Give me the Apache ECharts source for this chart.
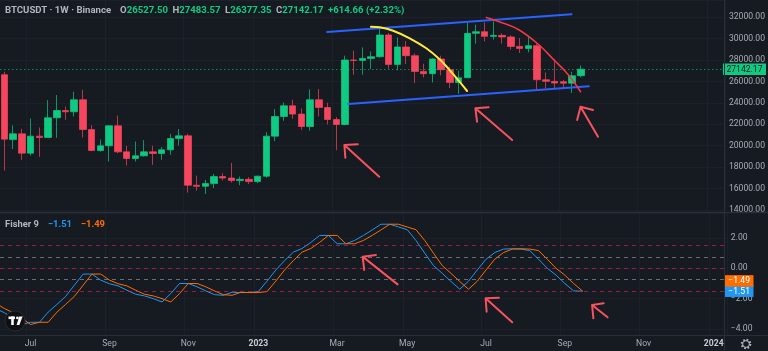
<!DOCTYPE html>
<html><head><meta charset="utf-8">
<script src="https://cdn.jsdelivr.net/npm/echarts@6/dist/echarts.min.js"></script>
<style>html,body{margin:0;padding:0;background:#161a21;}#c{width:768px;height:351px;}</style>
</head><body><div id="c"></div>
<script>
// ---------- DATA ----------
const firstWeek = '2022-06-13';   // week index 0
const weekCount = 83;             // categories shown (through 2024-01-08)
const opens  = [26621,20560,21101,19296,20886,20760,22598,23281,23160,24282,21504,19539,19979,21850,19417,18791,19043,19417,19260,19604,20662,20914,16302,16200,16452,17107,16970,16733,16850,16640,17144,20886,22720,23721,22944,21784,24282,23562,22439,21971,28000,27960,28146,28305,30335,27585,29212,28398,26930,26715,28090,27089,25900,26340,30484,30640,30204,30297,30150,29268,29080,29334,26153,26000,25968,25832,26527.50];
const closes = [20606,21101,19296,20886,20760,22598,23281,23160,24282,21504,19539,19979,21850,19417,18791,19043,19417,19260,19604,20662,20914,16302,16200,16452,17107,16970,16733,16850,16640,17144,20886,22720,23721,22944,21784,24282,23562,22439,21971,28000,27960,28146,28305,30335,27585,29212,28398,26930,26715,28090,27089,25900,26340,30484,30640,30204,30297,30150,29268,29080,29334,26153,26000,25840,25832,26527.50,27142.17];
const lows   = [17668,19670,18669,19071,18950,20727,20727,22411,22720,20755,19500,19450,18510,19300,18136,18510,18978,18201,18669,19137,20007,15610,15797,15488,16022,16733,16546,16302,16400,16500,17000,20419,22317,22505,21476,21400,22720,21971,19576,21900,26621,26621,27154,28210,27182,27023,27622,25845,26368,25900,26555,25377,24843,26300,29520,29736,29895,29520,28960,28651,28700,25218,25340,25377,25333,24910,26377.35];
const highs  = [26902,21878,21569,22533,21692,24254,24722,23655,25030,25218,21915,20569,21900,22813,19979,20381,20512,19979,19857,21101,21541,21101,17200,16798,17360,17424,18388,17107,17050,17200,21261,23412,24030,24282,23468,25246,25283,24001,22660,28398,28866,29175,28800,30990,30522,30110,29774,28600,27650,28150,28398,27370,27000,31457,31300,31513,31607,30500,30300,30054,30200,29500,26836,28090,26125,26900,27483.57];
const lastChange = 614.66, lastChangePct = 2.32;

// Fisher 9 (week index -1 .. 66)
const fisherStartIdx = -1;
const fisher  = [-2.65,-2.93,-3.30,-3.71,-3.56,-3.56,-2.89,-2.38,-1.85,-1.11,-0.38,-0.38,-0.78,-1.02,-1.16,-1.45,-1.71,-1.82,-2.00,-2.22,-1.67,-1.00,-1.00,-1.22,-1.49,-1.74,-1.78,-1.58,-1.60,-1.60,-1.53,-0.84,-0.11,0.51,1.07,1.31,1.71,2.17,2.17,1.62,1.62,1.84,2.17,2.53,2.91,2.91,2.73,2.55,1.84,1.00,0.18,-0.33,-0.87,-1.38,-0.85,-0.11,0.60,1.04,1.27,1.29,1.27,1.17,0.60,0.00,-0.45,-1.00,-1.49,-1.51];
const trigger = [-2.30,-2.65,-2.93,-3.30,-3.71,-3.56,-3.56,-2.89,-2.38,-1.85,-1.11,-0.38,-0.38,-0.78,-1.02,-1.16,-1.45,-1.71,-1.82,-2.00,-2.22,-1.67,-1.00,-1.00,-1.22,-1.49,-1.74,-1.78,-1.58,-1.60,-1.60,-1.53,-0.84,-0.11,0.51,1.07,1.31,1.71,2.17,2.17,1.62,1.62,1.84,2.17,2.53,2.91,2.91,2.73,2.55,1.84,1.00,0.18,-0.33,-0.87,-1.38,-0.85,-0.11,0.60,1.04,1.27,1.29,1.27,1.17,0.60,0.00,-0.45,-1.00,-1.49];
const fisherLevels = [1.5, 0.75, 0, -0.75, -1.5];

// x tick labels
const tickWeeks  = ['2022-07-04','2022-09-05','2022-11-07','2023-01-02','2023-03-06','2023-05-01','2023-07-03','2023-09-04','2023-11-06','2024-01-01'];
const tickLabels = ['Jul','Sep','Nov','2023','Mar','May','Jul','Sep','Nov','2024'];

// drawings: [weekIndex, price]
const upperLine = [[36.96,30611],[64.94,32264]];
const lowerLine = [[39.38,23887],[66.91,25540]];
const yellowArc = [[41.97,31106],[42.99,31050],[44.51,30733],[46.41,30023],[48.31,29089],[49.83,28061],[50.97,27062],[52.11,25969],[52.98,25101]];
const redArc    = [[55.18,31966],[56.66,31573],[58.94,30798],[61.22,29397],[62.93,27996],[64.26,26903],[65.19,25969],[65.97,25035]];
const priceArrows = [
  [[42.92,17096],[38.93,20057],[40.46,20122],[38.93,20057],[39.04,18871]],
  [[58.14,20524],[53.93,23485],[55.44,23578],[53.93,23485],[54.12,22233]],
  [[67.97,20832],[65.97,23634],[67.40,23326],[65.97,23634],[65.58,22392]]
];
// drawings: [weekIndex, fisher value]
const fisherArrows = [
  [[44.90,-1.06],[40.91,0.77],[42.43,0.88],[40.91,0.77],[41.09,-0.11]],
  [[57.99,-3.56],[54.95,-1.98],[56.47,-1.94],[54.95,-1.98],[55.07,-2.86]],
  [[68.88,-3.23],[67.11,-2.42],[68.43,-2.31],[67.11,-2.42],[67.26,-3.30]]
];

// ---------- CHART ----------
const UP = '#0ecb81', DOWN = '#f6465d';
const BG = '#161a21', GRIDC = '#1d2029', TXT = '#a9acb5', SEP = '#2a2e39';
const FONT = 'Roboto, "Noto Sans", sans-serif';
const BLUE = '#2196f3', ORANGE = '#ff6d00', ARROW = '#f7525f';

const categories = [];
{
  const d0 = Date.parse(firstWeek + 'T00:00:00Z');
  for (let i = 0; i < weekCount; i++) categories.push(new Date(d0 + i * 7 * 864e5).toISOString().slice(0, 10));
}
const candleData = opens.map((o, i) => [o, closes[i], lows[i], highs[i]]);
const fisherData = fisher.map((v, i) => [i + fisherStartIdx, v]);
const triggerData = trigger.map((v, i) => [i + fisherStartIdx, v]);
const fmt = v => (v < 0 ? '\u2212' : '') + Math.abs(v).toFixed(2);
const last = opens.length - 1;

const leftPx = -1.89, rightPx = 41.15;
const lineSeries = (data, color, width, xi, yi, smooth) => ({
  type: 'line', data, xAxisIndex: xi, yAxisIndex: yi, showSymbol: false, symbol: 'none',
  smooth: smooth || false, silent: true, animation: false, z: 5,
  lineStyle: { color, width, cap: 'round', join: 'round' }
});
const hiddenLine = { color: 'rgba(0,0,0,0)', width: 0, opacity: 1 };
const valueTag = (bg, fg, extraLine) => ({
  show: true, position: 'end', distance: -2, opacity: 1,
  formatter: p => '{b|' + fmt(p.value) + '}' + (extraLine ? '\n{s| }' : ''),
  rich: { b: { backgroundColor: bg, color: fg, fontSize: 8.6, fontFamily: FONT, lineHeight: 9, padding: [1.5, 3.5, 1, 3.5],
               textBorderWidth: 0, textShadowBlur: 0, opacity: 1 },
          s: { fontSize: 2, lineHeight: 20, height: 20 } }
});

const option = {
  backgroundColor: BG,
  animation: false,
  textStyle: { fontFamily: FONT },
  title: [{
    left: 5, top: 2, padding: 0,
    text: `{n|BTCUSDT · 1W · Binance}  {k|O}{v|${opens[last].toFixed(2)}} {k|H}{v|${highs[last].toFixed(2)}} {k|L}{v|${lows[last].toFixed(2)}} {k|C}{v|${closes[last].toFixed(2)}} {v|+${lastChange.toFixed(2)} (+${lastChangePct.toFixed(2)}%)}`,
    textStyle: { rich: {
      n: { color: '#b2b5be', fontSize: 9.6, fontFamily: FONT, lineHeight: 12 },
      k: { color: '#b2b5be', fontSize: 9.6, fontFamily: FONT, lineHeight: 12 },
      v: { color: UP, fontSize: 9.6, fontFamily: FONT, lineHeight: 12 }
    } }
  }, {
    left: 5, top: 216, padding: 0,
    text: `{n|Fisher 9}  {b|${fmt(fisher[fisher.length - 1])}}  {o|${fmt(trigger[trigger.length - 1])}}`,
    textStyle: { rich: {
      n: { color: '#b2b5be', fontSize: 9.4, fontFamily: FONT, lineHeight: 12 },
      b: { color: BLUE, fontSize: 9.4, fontFamily: FONT, lineHeight: 12 },
      o: { color: ORANGE, fontSize: 9.4, fontFamily: FONT, lineHeight: 12 }
    } }
  }],
  grid: [
    { left: leftPx, right: rightPx, top: 0, height: 212 },
    { left: leftPx, right: rightPx, top: 213, height: 122 }
  ],
  xAxis: [
    { type: 'category', gridIndex: 0, data: categories, boundaryGap: true,
      axisLine: { show: false }, axisTick: { show: false }, axisLabel: { show: false },
      splitLine: { show: true, interval: (i, v) => tickWeeks.includes(v), lineStyle: { color: GRIDC } } },
    { type: 'category', gridIndex: 1, data: categories, boundaryGap: true,
      axisLine: { show: false }, axisTick: { show: false },
      axisLabel: { show: true, interval: (i, v) => tickWeeks.includes(v), margin: 4,
        formatter: v => { const l = tickLabels[tickWeeks.indexOf(v)]; return /^\d+$/.test(l) ? '{y|' + l + '}' : '{m|' + l + '}'; },
        rich: { m: { color: TXT, fontSize: 8.6, fontFamily: FONT }, y: { color: '#c9ccd4', fontSize: 8.6, fontWeight: 'bold', fontFamily: FONT } } },
      splitLine: { show: true, interval: (i, v) => tickWeeks.includes(v), lineStyle: { color: GRIDC } } },
    { type: 'value', gridIndex: 0, min: -0.5, max: weekCount - 0.5, show: false },
    { type: 'value', gridIndex: 1, min: -0.5, max: weekCount - 0.5, show: false }
  ],
  yAxis: [
    { type: 'value', gridIndex: 0, position: 'right', min: 13800, max: 33600, splitNumber: 10,
      minInterval: 2000, maxInterval: 2000, scale: true,
      axisLine: { show: false }, axisTick: { show: false },
      axisLabel: { margin: 4, color: TXT, fontSize: 8.6, fontFamily: FONT, showMinLabel: false, showMaxLabel: false, formatter: v => fmt(v) },
      splitLine: { lineStyle: { color: GRIDC } } },
    { type: 'value', gridIndex: 1, position: 'right', min: -4.40, max: 3.65, splitNumber: 4,
      minInterval: 2, maxInterval: 2,
      axisLine: { show: false }, axisTick: { show: false },
      axisLabel: { margin: 4, color: TXT, fontSize: 8.6, fontFamily: FONT, showMinLabel: false, showMaxLabel: false, formatter: v => fmt(v) },
      splitLine: { lineStyle: { color: GRIDC } } }
  ],
  series: [
    { type: 'candlestick', xAxisIndex: 0, yAxisIndex: 0, data: candleData, barWidth: 7, silent: true, z: 3,
      itemStyle: { color: UP, color0: DOWN, borderColor: 'rgba(14,203,129,0.7)', borderColor0: 'rgba(246,70,93,0.7)', borderWidth: 1 } },
    // last price line + tag
    Object.assign(lineSeries([[last, closes[last]]], UP, 1, 2, 0), { z: 6,
      markLine: { silent: true, symbol: ['none', 'none'], animation: false, label: { show: false },
        data: [
          { yAxis: closes[last], lineStyle: { color: 'rgba(14,203,129,0.6)', type: [1.5, 2.5], width: 1 }, label: { show: false } },
          { yAxis: closes[last], lineStyle: hiddenLine, label: valueTag(UP, '#131722', false) }
        ] } }),
    lineSeries(upperLine, '#2962ff', 2, 2, 0),
    lineSeries(lowerLine, '#2962ff', 2, 2, 0),
    lineSeries(yellowArc, '#ffeb3b', 2, 2, 0, 0.4),
    lineSeries(redArc, '#f23645', 1.6, 2, 0, 0.4),
    ...priceArrows.map(a => lineSeries(a, ARROW, 2, 2, 0)),
    Object.assign(lineSeries(fisherData, BLUE, 1, 3, 1), { z: 4,
      markLine: { silent: true, symbol: ['none', 'none'], animation: false, label: { show: false },
        data: fisherLevels.map(v => ({ yAxis: v,
          lineStyle: { color: (v === 0 || Math.abs(v) === 1.5) ? 'rgba(233,30,99,0.6)' : 'rgba(120,123,134,0.85)', type: [4, 4], width: 1 } }))
          .concat([{ yAxis: fisher[fisher.length - 1], lineStyle: hiddenLine, label: valueTag(BLUE, '#fff', false) }]) } }),
    Object.assign(lineSeries(triggerData, ORANGE, 1, 3, 1), { z: 4,
      markLine: { silent: true, symbol: ['none', 'none'], animation: false,
        data: [{ yAxis: trigger[trigger.length - 1], lineStyle: hiddenLine, label: valueTag(ORANGE, '#fff', true) }] } }),
    ...fisherArrows.map(a => lineSeries(a, ARROW, 2, 3, 1))
  ],
  graphic: [
    { type: 'line', z: 100, shape: { x1: 724.5, y1: 0, x2: 724.5, y2: 351 }, style: { stroke: SEP, lineWidth: 1 } },
    { type: 'line', z: 100, shape: { x1: 0, y1: 212.5, x2: 768, y2: 212.5 }, style: { stroke: SEP, lineWidth: 1.5 } },
    { type: 'line', z: 100, shape: { x1: 0, y1: 335.5, x2: 768, y2: 335.5 }, style: { stroke: SEP, lineWidth: 1 } },
    { type: 'circle', z: 100, shape: { cx: 746, cy: 344, r: 4.2 }, style: { fill: 'none', stroke: '#b2b5be', lineWidth: 2.2, lineDash: [1.6, 1.7] } },
    { type: 'circle', z: 100, shape: { cx: 746, cy: 344, r: 3.4 }, style: { fill: 'none', stroke: '#b2b5be', lineWidth: 1 } },
    { type: 'circle', z: 100, shape: { cx: 15, cy: 321, r: 10 }, style: { fill: '#0e1015', stroke: '#262a33', lineWidth: 1 } },
    { type: 'rect', z: 101, shape: { x: 8.5, y: 316.5, width: 6.5, height: 2.6 }, style: { fill: '#fff' } },
    { type: 'rect', z: 101, shape: { x: 11.2, y: 316.5, width: 2.6, height: 8.5 }, style: { fill: '#fff' } },
    { type: 'circle', z: 101, shape: { cx: 17.4, cy: 317.9, r: 1.4 }, style: { fill: '#fff' } },
    { type: 'polygon', z: 101, shape: { points: [[19.2, 316.5], [22.6, 316.5], [19.4, 325], [16.6, 325]] }, style: { fill: '#fff' } }
  ]
};
const chart = echarts.init(document.getElementById('c'));
chart.setOption(option);
</script></body></html>
